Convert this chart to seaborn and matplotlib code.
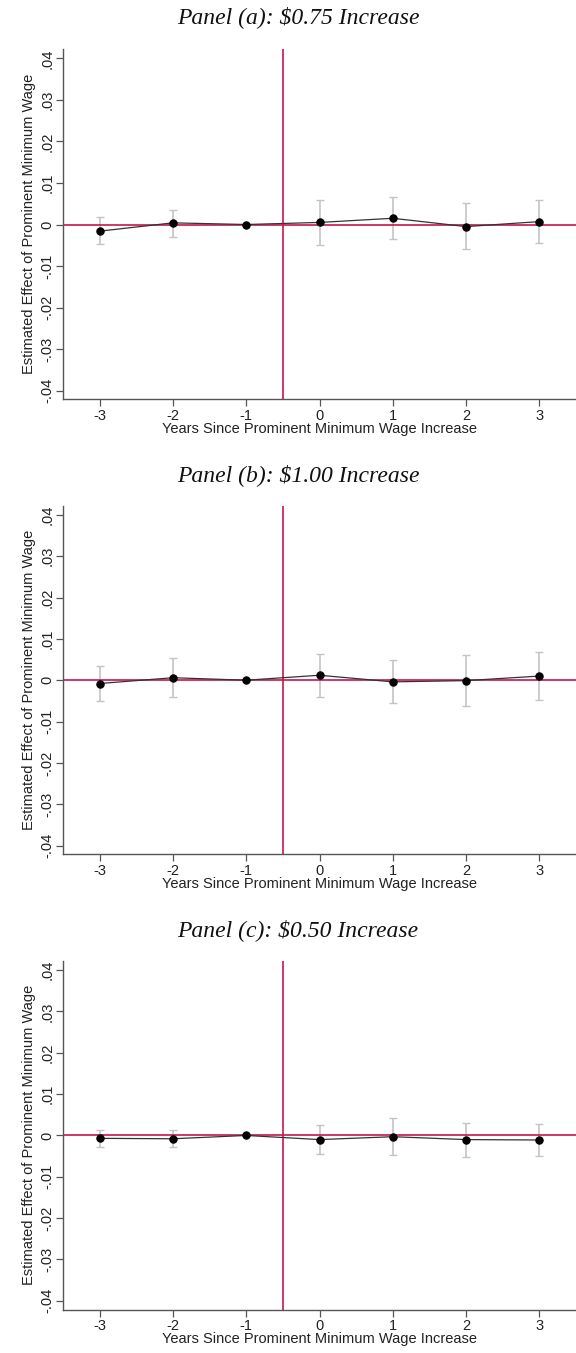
import numpy as np
import pandas as pd
import matplotlib
matplotlib.use("Agg")
import matplotlib.pyplot as plt
import seaborn as sns

# Event-study estimates by years since the prominent minimum wage increase
years = [-3, -2, -1, 0, 1, 2, 3]

est_a = [-0.0016, 0.0004, 0.0, 0.0005, 0.0015, -0.0005, 0.0007]
lo_a = [-0.0048, -0.0029, np.nan, -0.0049, -0.0035, -0.0059, -0.0045]
hi_a = [0.0017, 0.0036, np.nan, 0.0058, 0.0067, 0.0051, 0.0059]

est_b = [-0.0008, 0.0006, 0.0, 0.0012, -0.0004, -0.0001, 0.0010]
lo_b = [-0.0051, -0.0040, np.nan, -0.0041, -0.0056, -0.0063, -0.0049]
hi_b = [0.0034, 0.0054, np.nan, 0.0064, 0.0048, 0.0061, 0.0069]

est_c = [-0.0007, -0.0008, 0.0, -0.0010, -0.0003, -0.0010, -0.0011]
lo_c = [-0.0029, -0.0029, np.nan, -0.0046, -0.0047, -0.0051, -0.0049]
hi_c = [0.0014, 0.0012, np.nan, 0.0026, 0.0042, 0.0030, 0.0027]

titles = ["Panel (a): $0.75 Increase",
          "Panel (b): $1.00 Increase",
          "Panel (c): $0.50 Increase"]

y_ticks = [-0.04, -0.03, -0.02, -0.01, 0.0, 0.01, 0.02, 0.03, 0.04]
y_tick_labels = ["-.04", "-.03", "-.02", "-.01", "0", ".01", ".02", ".03", ".04"]

xlabel = "Years Since Prominent Minimum Wage Increase"
ylabel = "Estimated Effect of Prominent Minimum Wage"

sns.set_style("ticks")
plt.rcParams["font.family"] = ["Liberation Sans", "DejaVu Sans"]
plt.rcParams["text.parse_math"] = False

W, H = 576, 1353
fig = plt.figure(figsize=(W / 100, H / 100), dpi=100)
fig.patch.set_facecolor("white")

RED = "#c8154a"
SPINE = "#555555"

# (top, bottom) of each axes box, in pixels from the top of the figure
boxes = [(49.3, 399.3), (505.7, 854.3), (961.0, 1309.5)]
title_y = [17, 475, 930]
left_px = 63

panels = [(est_a, lo_a, hi_a), (est_b, lo_b, hi_b), (est_c, lo_c, hi_c)]

for (top, bot), ty, title, (est, lo, hi) in zip(boxes, title_y, titles, panels):
    ax = fig.add_axes([left_px / W, 1 - bot / H, (W - left_px) / W, (bot - top) / H])
    df = pd.DataFrame({"year": years, "est": est, "lo": lo, "hi": hi})

    # confidence intervals
    ci = df.dropna()
    ax.errorbar(ci["year"], (ci["lo"] + ci["hi"]) / 2,
                yerr=(ci["hi"] - ci["lo"]) / 2, fmt="none",
                ecolor="#c4c4c4", elinewidth=1.2, capsize=3.2, capthick=1.0,
                zorder=1)

    # reference lines
    ax.axhline(0, color=RED, lw=1.2, zorder=2)
    ax.axvline(-0.5, color=RED, lw=1.2, zorder=2)

    # point estimates
    sns.lineplot(data=df, x="year", y="est", ax=ax, color="#333333",
                 linewidth=0.9, marker="o", markersize=5.3,
                 markerfacecolor="black", markeredgecolor="black",
                 zorder=3)

    ax.set_xlim(-3.5, 3.5)
    ax.set_ylim(-0.0421, 0.0422)
    ax.set_xticks(years)
    ax.set_xticklabels([str(y) for y in years], fontsize=10.5)
    ax.set_yticks(y_ticks)
    ax.set_yticklabels(y_tick_labels, rotation=90, va="center", fontsize=10.5)

    ax.set_xlabel(xlabel, fontsize=10.5, labelpad=-1, color="#222222")
    ax.set_ylabel(ylabel, fontsize=10.5, labelpad=3, color="#222222")

    for side in ["top", "right"]:
        ax.spines[side].set_visible(False)
    for side in ["left", "bottom"]:
        ax.spines[side].set_color(SPINE)
        ax.spines[side].set_linewidth(1.0)
    ax.tick_params(axis="both", length=5, width=0.9, color=SPINE,
                   labelcolor="#222222", pad=2)
    ax.tick_params(axis="y", pad=1)

    fig.text(298 / W, 1 - ty / H, title, ha="center", va="center",
             fontsize=17, style="italic", family=["Liberation Serif", "DejaVu Serif"],
             color="#111111")

fig.savefig("out.png", dpi=100, facecolor="white")
